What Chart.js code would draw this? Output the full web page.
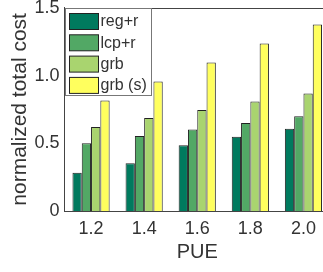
<!DOCTYPE html>
<html>
<head>
<meta charset="utf-8">
<script src="https://cdn.jsdelivr.net/npm/chart.js@4/dist/chart.umd.min.js"></script>
<style>
  html, body { margin: 0; padding: 0; background: #fff; overflow: hidden; }
  #wrap { width: 323px; height: 272px; overflow: hidden; }
  #canva { display: block; margin-top: -8px; }
</style>
</head>
<body>
<div id="wrap"><canvas id="canva" width="330" height="280"></canvas></div>
<script>
const pue = ["1.2", "1.4", "1.6", "1.8", "2.0"];
const seriesNames = ["reg+r", "lcp+r", "grb", "grb (s)"];
const regR = [0.283, 0.352, 0.485, 0.549, 0.608];
const lcpR = [0.50, 0.554, 0.601, 0.650, 0.700];
const grb = [0.62, 0.687, 0.746, 0.808, 0.867];
const grbS = [0.815, 0.956, 1.096, 1.237, 1.377];
const yTicks = [0, 0.5, 1.0, 1.5];
const colors = ["#007a5e", "#52a865", "#a9d46f", "#ffff5e"];

const values = [regR, lcpR, grb, grbS];
const ctx = document.getElementById("canva");
const textColor = "#333";
const font = "Liberation Sans, Arial, sans-serif";

// legend drawn inside the plot, top-left, like the original figure
const boxLegend = {
  id: "boxLegend",
  afterDraw(chart) {
    const c = chart.ctx;
    const area = chart.chartArea;
    const x0 = Math.round(area.left) + 0.5, y0 = Math.round(area.top) + 0.5;
    c.save();
    c.fillStyle = "#fff";
    c.fillRect(x0, y0, 86, 87);
    c.strokeStyle = "#777";
    c.lineWidth = 1;
    c.strokeRect(x0, y0, 86, 87);
    c.font = "16px " + font;
    c.textBaseline = "middle";
    chart.data.datasets.forEach((ds, i) => {
      const y = y0 + 5 + i * 21.3;
      c.fillStyle = ds.backgroundColor;
      c.fillRect(x0 + 4, y, 29, 16);
      c.strokeStyle = "#222";
      c.strokeRect(x0 + 4, y, 29, 16);
      c.fillStyle = textColor;
      c.fillText(ds.label, x0 + 35, y + 8.5);
    });
    c.restore();
  },
};

// box around plot (top and right edges)
const frame = {
  id: "frame",
  beforeDatasetsDraw(chart) {
    const c = chart.ctx;
    const a = chart.chartArea;
    c.save();
    c.strokeStyle = "#444";
    c.lineWidth = 1;
    c.beginPath();
    c.moveTo(a.left, Math.round(a.top) + 0.5);
    c.lineTo(a.right, Math.round(a.top) + 0.5);
    c.lineTo(a.right - 0.5, a.bottom);
    c.stroke();
    c.restore();
  },
};

new Chart(ctx, {
  type: "bar",
  data: {
    labels: pue,
    datasets: seriesNames.map((name, i) => ({
      label: name,
      data: values[i],
      backgroundColor: colors[i],
      borderColor: "#222",
      borderWidth: 1,
      categoryPercentage: 0.7,
      barPercentage: 1.0,
    })),
  },
  options: {
    responsive: false,
    animation: false,
    layout: { padding: 0 },
    scales: {
      x: {
        grid: { display: false, drawTicks: false },
        border: { color: "#444" },
        ticks: { color: textColor, font: { family: font, size: 18 }, padding: 7, maxRotation: 0 },
        title: { display: true, text: "PUE", color: textColor, font: { family: font, size: 20 }, padding: { top: 0, bottom: 8 } },
        afterFit: (s) => { s.height = 61; },
      },
      y: {
        min: 0,
        max: 1.5,
        afterBuildTicks: (s) => { s.ticks = yTicks.map((v) => ({ value: v })); },
        grid: { display: false, drawTicks: false },
        border: { color: "#444" },
        ticks: {
          color: textColor,
          font: { family: font, size: 18 },
          padding: 5,
          callback: (v) => (v === 0 ? "0" : v.toFixed(1)),
        },
        title: { display: true, text: "normalized total cost", color: textColor, font: { family: font, size: 21 }, padding: { top: 8, bottom: 2 } },
        afterFit: (s) => { s.width = 64.5; },
      },
    },
    plugins: {
      legend: { display: false },
      tooltip: { enabled: false },
    },
  },
  plugins: [frame, boxLegend],
});
</script>
</body>
</html>
